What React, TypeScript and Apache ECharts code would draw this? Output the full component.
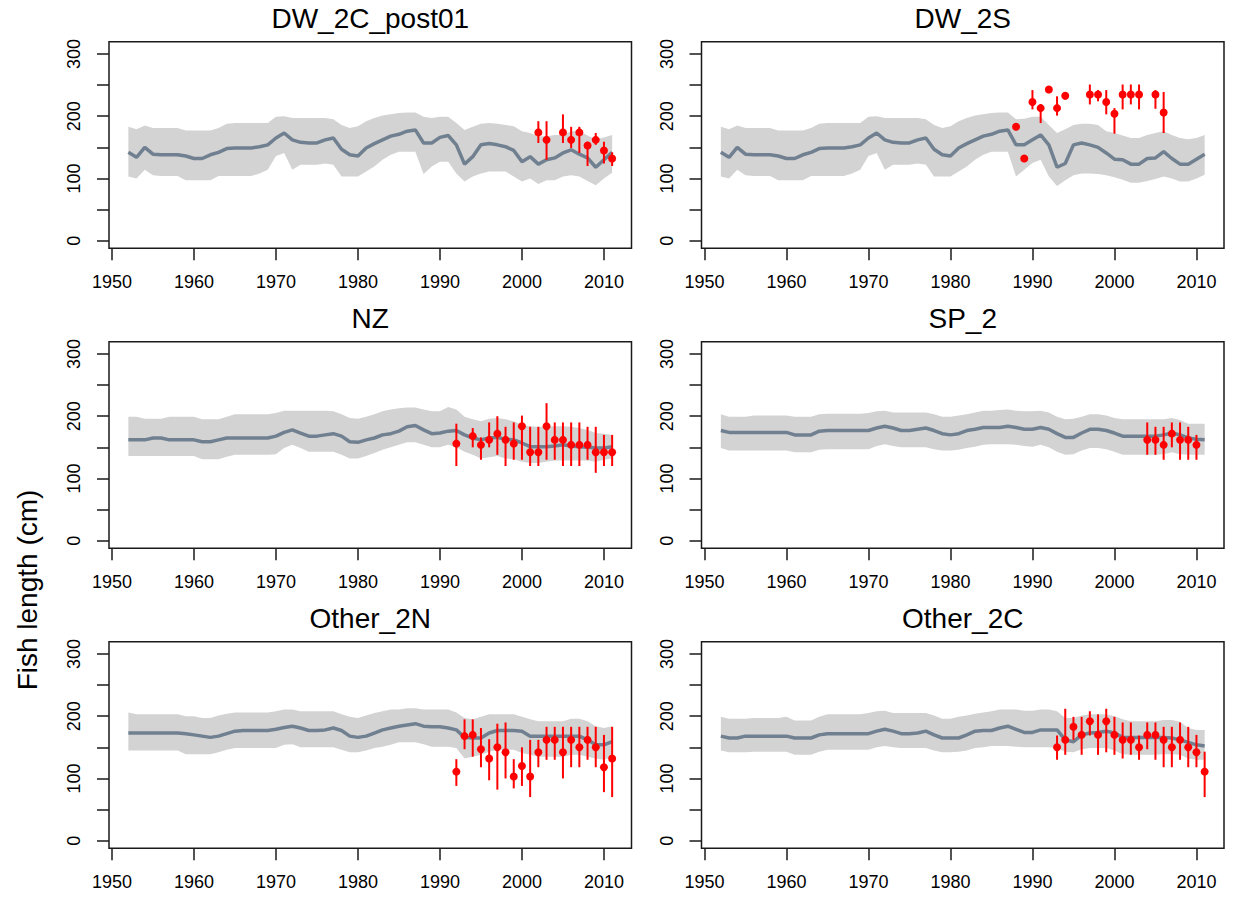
import React, { useEffect, useRef } from "react";
import * as echarts from "echarts";

const years = [1952,1953,1954,1955,1956,1957,1958,1959,1960,1961,1962,1963,1964,1965,1966,1967,1968,1969,1970,1971,1972,1973,1974,1975,1976,1977,1978,1979,1980,1981,1982,1983,1984,1985,1986,1987,1988,1989,1990,1991,1992,1993,1994,1995,1996,1997,1998,1999,2000,2001,2002,2003,2004,2005,2006,2007,2008,2009,2010,2011];

const xTicks = [1950, 1960, 1970, 1980, 1990, 2000, 2010];
const yTicks = [0, 50, 100, 150, 200, 250, 300];
const yLabels = [0, 100, 200, 300];

// ---- DW_2C_post01 ----
const dw2cMed = [142,134,150,139,138,138,138,136,132,132,138,142,148,149,149,149,151,154,165,173,162,158,157,157,162,165,147,138,136,149,156,162,168,171,176,178,157,157,166,169,154,123,135,154,156,154,151,145,127,135,123,130,133,141,146,139,133,118,130,142];
const dw2cHi = [183,179,185,181,181,181,181,177,177,177,177,181,188,189,189,189,189,189,199,200,197,197,197,197,197,195,186,181,184,192,197,201,203,205,206,206,199,197,199,199,189,178,183,188,189,188,186,184,176,173,168,168,170,170,176,176,169,163,166,170];
const dw2cLo = [103,100,114,105,104,104,104,97,97,97,97,104,104,104,104,104,108,114,136,141,114,122,122,122,124,122,103,103,103,111,119,130,138,143,143,143,107,119,127,127,108,95,103,108,111,111,111,103,95,100,91,97,97,103,105,103,96,89,100,109];
const dw2cObsYears = [2002,2003,2005,2006,2007,2008,2009,2010,2011];
const dw2cObs = [174,162,174,162,174,153,162,145,132];
const dw2cObsHi = [192,192,203,183,183,159,173,159,142];
const dw2cObsLo = [157,130,157,149,141,120,154,124,120];

// ---- DW_2S ----
const dw2sMed = [142,134,150,139,138,138,138,136,132,132,138,142,148,149,149,149,151,154,165,173,162,158,157,157,162,165,147,138,136,149,156,162,168,171,176,178,154,154,162,170,154,118,124,154,157,154,150,141,131,130,123,123,132,133,143,132,123,123,131,139];
const dw2sHi = [183,179,185,181,181,181,181,177,177,177,177,181,188,189,189,189,189,189,199,200,197,197,197,197,197,195,186,181,184,192,197,201,203,205,206,206,195,196,199,199,186,173,179,186,188,188,186,176,173,169,165,165,170,173,176,170,165,163,165,170];
const dw2sLo = [103,100,114,105,104,104,104,97,97,97,97,104,104,104,104,104,108,114,136,141,114,122,122,122,124,122,103,103,103,111,119,130,138,143,143,143,103,114,125,130,103,88,97,105,108,108,107,105,102,98,93,93,96,99,103,100,95,95,100,106];
const dw2sObsYears = [1988,1989,1990,1991,1992,1993,1994,1997,1998,1999,2000,2001,2002,2003,2005,2006];
const dw2sObs = [183,132,223,213,243,213,233,235,235,223,204,235,235,235,235,206];
const dw2sObsHi = [183,132,242,219,247,232,239,251,242,242,213,251,251,251,242,239];
const dw2sObsLo = [183,132,211,189,238,201,227,219,224,203,172,211,219,211,212,173];

// ---- NZ ----
const nzMed = [162,162,162,165,165,162,162,162,162,159,159,162,165,165,165,165,165,165,168,174,178,173,168,168,170,172,168,159,158,162,165,170,172,176,183,185,178,172,173,176,177,170,165,162,165,166,163,162,157,151,151,151,152,154,152,151,150,149,149,151];
const nzHi = [199,199,196,196,196,199,199,199,199,195,195,195,199,203,203,203,203,203,205,209,209,209,209,209,209,208,203,197,196,199,203,208,211,213,214,214,211,208,208,215,211,199,195,192,196,197,195,192,186,184,183,183,184,184,183,181,178,173,172,170];
const nzLo = [136,136,136,136,136,136,136,136,136,131,131,131,135,138,138,138,138,138,139,149,154,149,143,143,143,143,138,132,132,136,141,146,150,154,158,158,154,150,150,154,150,143,138,132,134,136,132,131,127,125,125,127,129,129,129,129,129,127,130,132];
const nzObsYears = [1992,1994,1995,1996,1997,1998,1999,2000,2001,2002,2003,2004,2005,2006,2007,2008,2009,2010,2011];
const nzObs = [156,168,154,162,172,162,156,184,142,142,184,162,162,154,154,154,142,142,142];
const nzObsHi = [188,181,166,190,200,183,190,201,183,183,221,190,190,190,190,183,183,170,170];
const nzObsLo = [120,150,130,150,138,120,130,130,120,120,130,130,120,120,120,130,109,120,120];

// ---- SP_2 ----
const spMed = [177,174,174,174,174,174,174,174,174,170,170,170,176,177,177,177,177,177,177,181,184,181,177,177,179,181,177,172,170,172,177,179,182,182,182,184,182,179,179,182,179,172,166,166,173,179,179,177,173,168,168,168,168,168,170,173,170,165,163,162];
const spHi = [203,199,199,199,201,201,201,201,201,199,199,199,203,204,204,204,204,204,205,208,209,206,206,206,206,206,203,199,199,201,203,206,209,209,210,211,209,208,208,209,206,199,195,196,199,203,203,201,197,195,195,195,195,195,195,197,194,188,188,188];
const spLo = [149,145,145,145,145,145,145,145,145,142,142,142,146,147,147,147,147,147,147,152,155,152,150,150,150,150,147,145,145,146,149,151,154,155,155,155,154,152,151,154,150,143,138,139,145,149,149,147,143,138,138,138,138,138,139,142,139,138,138,138];
const spObsYears = [2004,2005,2006,2007,2008,2009,2010];
const spObs = [162,162,154,172,162,162,154];
const spObsHi = [190,183,183,190,190,183,170];
const spObsLo = [138,138,130,150,130,130,130];

// ---- Other_2N ----
const o2nMed = [173,173,173,173,173,173,173,172,170,168,166,168,172,176,177,177,177,177,179,182,184,181,177,177,178,181,177,168,166,168,173,178,181,184,186,188,184,183,183,181,178,166,165,165,173,177,177,177,176,168,168,168,168,168,168,168,162,154,154,159];
const o2nHi = [206,203,203,203,203,203,203,200,200,197,197,201,204,206,206,206,206,206,208,211,211,208,208,208,208,208,203,199,197,201,205,208,211,211,213,213,211,211,211,211,206,197,195,199,203,203,203,203,199,195,192,192,192,192,196,196,192,184,181,184];
const o2nLo = [145,145,145,145,145,145,145,139,139,139,139,142,146,149,149,149,149,149,149,154,155,150,150,150,150,150,146,142,142,145,149,151,154,158,158,158,155,151,151,151,149,132,135,138,143,146,146,146,141,138,135,135,135,135,138,138,135,132,130,135];
const o2nObsYears = [1992,1993,1994,1995,1996,1997,1998,1999,2000,2001,2002,2003,2004,2005,2006,2007,2008,2009,2010,2011];
const o2nObs = [111,168,170,147,132,150,142,103,120,103,142,162,162,142,162,150,162,150,118,132];
const o2nObsHi = [131,195,195,181,163,188,190,131,150,162,162,183,183,183,183,183,183,183,170,183];
const o2nObsLo = [88,147,135,118,97,82,100,84,88,70,118,130,130,100,118,118,130,118,78,70];

// ---- Other_2C ----
const o2cMed = [168,165,165,168,168,168,168,168,168,165,165,165,170,172,172,172,172,172,172,176,179,176,172,172,173,176,170,165,165,165,170,176,177,177,181,184,179,174,174,178,178,178,162,159,170,173,174,176,173,166,166,166,166,166,166,165,162,158,154,152];
const o2cHi = [199,196,196,196,197,197,197,197,199,193,193,193,199,203,203,203,203,203,205,208,209,205,205,205,205,205,201,196,196,199,201,204,206,208,211,211,211,209,209,211,211,208,197,197,201,203,203,203,200,195,192,192,192,192,194,194,191,181,178,178];
const o2cLo = [145,142,142,142,143,143,143,143,143,138,138,138,143,146,146,146,146,146,146,150,152,150,149,149,149,149,145,142,142,143,145,149,150,152,152,152,151,150,150,150,150,149,143,142,147,149,149,149,145,139,138,138,138,138,139,139,138,132,130,130];
const o2cObsYears = [1993,1994,1995,1996,1997,1998,1999,2000,2001,2002,2003,2004,2005,2006,2007,2008,2009,2010,2011];
const o2cObs = [150,162,183,170,192,170,192,170,162,162,150,170,170,162,150,162,150,142,111];
const o2cObsHi = [169,212,199,199,208,203,212,199,190,190,169,190,190,183,183,190,183,170,143];
const o2cObsLo = [130,138,162,138,169,138,142,138,132,138,130,147,130,118,118,130,118,118,70];

const panelTitles = ["DW_2C_post01", "DW_2S", "NZ", "SP_2", "Other_2N", "Other_2C"];
const yAxisTitle = "Fish length (cm)";

const panels = [
  { med: dw2cMed, hi: dw2cHi, lo: dw2cLo, oy: dw2cObsYears, ov: dw2cObs, ohi: dw2cObsHi, olo: dw2cObsLo },
  { med: dw2sMed, hi: dw2sHi, lo: dw2sLo, oy: dw2sObsYears, ov: dw2sObs, ohi: dw2sObsHi, olo: dw2sObsLo },
  { med: nzMed, hi: nzHi, lo: nzLo, oy: nzObsYears, ov: nzObs, ohi: nzObsHi, olo: nzObsLo },
  { med: spMed, hi: spHi, lo: spLo, oy: spObsYears, ov: spObs, ohi: spObsHi, olo: spObsLo },
  { med: o2nMed, hi: o2nHi, lo: o2nLo, oy: o2nObsYears, ov: o2nObs, ohi: o2nObsHi, olo: o2nObsLo },
  { med: o2cMed, hi: o2cHi, lo: o2cLo, oy: o2cObsYears, ov: o2cObs, ohi: o2cObsHi, olo: o2cObsLo },
];

const FONT = "'Liberation Sans', Arial, Helvetica, sans-serif";
const GRID_LEFTS = [109, 701.5];
const GRID_TOPS = [41.7, 341.7, 641.7];
const GRID_W = 522.5;
const GRID_H = 206.6;

export default function App() {
  const ref = useRef<HTMLDivElement>(null);
  useEffect(() => {
    if (!ref.current) return;
    const chart = echarts.init(ref.current, null, { renderer: "svg" });

    const grids: any[] = [];
    const xAxes: any[] = [];
    const yAxes: any[] = [];
    const series: any[] = [];
    const graphics: any[] = [];

    panels.forEach((p, i) => {
      const col = i % 2;
      const row = Math.floor(i / 2);
      const left = GRID_LEFTS[col];
      const top = GRID_TOPS[row];
      grids.push({
        left, top, width: GRID_W, height: GRID_H,
        show: true, borderColor: "#1a1a1a", borderWidth: 1.5, backgroundColor: "transparent",
        containLabel: false,
      });
      xAxes.push({
        type: "value", gridIndex: i, min: 1949.64, max: 2013.36,
        axisLine: { show: false, onZero: false },
        splitLine: { show: false },
        axisTick: { show: true, length: 12, inside: false, customValues: xTicks, lineStyle: { color: "#1a1a1a", width: 1.5 } },
        axisLabel: { show: true, customValues: xTicks, fontSize: 18, color: "#000", fontFamily: FONT, margin: 25, formatter: (v: number) => String(v) },
      });
      yAxes.push({
        type: "value", gridIndex: i, min: -12.3, max: 319.8,
        axisLine: { show: false, onZero: false },
        splitLine: { show: false },
        axisTick: { show: true, length: 12, inside: false, customValues: yTicks, lineStyle: { color: "#1a1a1a", width: 1.5 } },
        axisLabel: { show: true, customValues: yLabels, rotate: 90, fontSize: 18, color: "#000", fontFamily: FONT, margin: 26, formatter: (v: number) => String(v) },
      });

      const bandData = years.map((y, k) => [y, p.lo[k], p.hi[k]]);
      series.push({
        type: "custom", xAxisIndex: i, yAxisIndex: i, z: 1, silent: true,
        data: bandData, encode: { x: 0, y: [1, 2] },
        clip: true,
        renderItem: (params: any, api: any) => {
          if (params.dataIndex !== 0) return null;
          const pts: number[][] = [];
          for (let k = 0; k < years.length; k++) pts.push(api.coord([years[k], p.hi[k]]));
          for (let k = years.length - 1; k >= 0; k--) pts.push(api.coord([years[k], p.lo[k]]));
          return { type: "polygon", shape: { points: pts }, style: { fill: "#d3d3d3", stroke: "none" } };
        },
      });
      series.push({
        type: "line", xAxisIndex: i, yAxisIndex: i, z: 2, silent: true,
        data: years.map((y, k) => [y, p.med[k]]),
        showSymbol: false, symbol: "none",
        lineStyle: { color: "#708090", width: 3.5 },
      });
      series.push({
        type: "custom", xAxisIndex: i, yAxisIndex: i, z: 3, silent: true,
        data: p.oy.map((y, k) => [y, p.olo[k], p.ohi[k]]),
        encode: { x: 0, y: [1, 2] },
        renderItem: (params: any, api: any) => {
          const x = api.value(0);
          const a = api.coord([x, api.value(1)]);
          const b = api.coord([x, api.value(2)]);
          return { type: "line", shape: { x1: a[0], y1: a[1], x2: b[0], y2: b[1] }, style: { stroke: "#ff0000", lineWidth: 2 } };
        },
      });
      series.push({
        type: "scatter", xAxisIndex: i, yAxisIndex: i, z: 4, silent: true,
        data: p.oy.map((y, k) => [y, p.ov[k]]),
        symbol: "circle", symbolSize: 8,
        itemStyle: { color: "#ff0000", opacity: 1 },
      });

      graphics.push({
        type: "text", x: left + GRID_W / 2, y: top - 23,
        style: { text: panelTitles[i], font: `28px ${FONT}`, fill: "#000", textAlign: "center", textVerticalAlign: "middle", align: "center", verticalAlign: "middle" },
      });
    });

    graphics.push({
      type: "text", x: 27, y: 590, rotation: Math.PI / 2,
      style: { text: yAxisTitle, font: `28px ${FONT}`, fill: "#000", textAlign: "center", textVerticalAlign: "middle", align: "center", verticalAlign: "middle" },
    });

    chart.setOption({
      animation: false,
      backgroundColor: "#ffffff",
      grid: grids,
      xAxis: xAxes,
      yAxis: yAxes,
      series,
      graphic: graphics,
    });
    return () => chart.dispose();
  }, []);
  return <div ref={ref} style={{ position: "absolute", left: 0, top: 0, width: 1233, height: 899, background: "#fff" }} />;
}
